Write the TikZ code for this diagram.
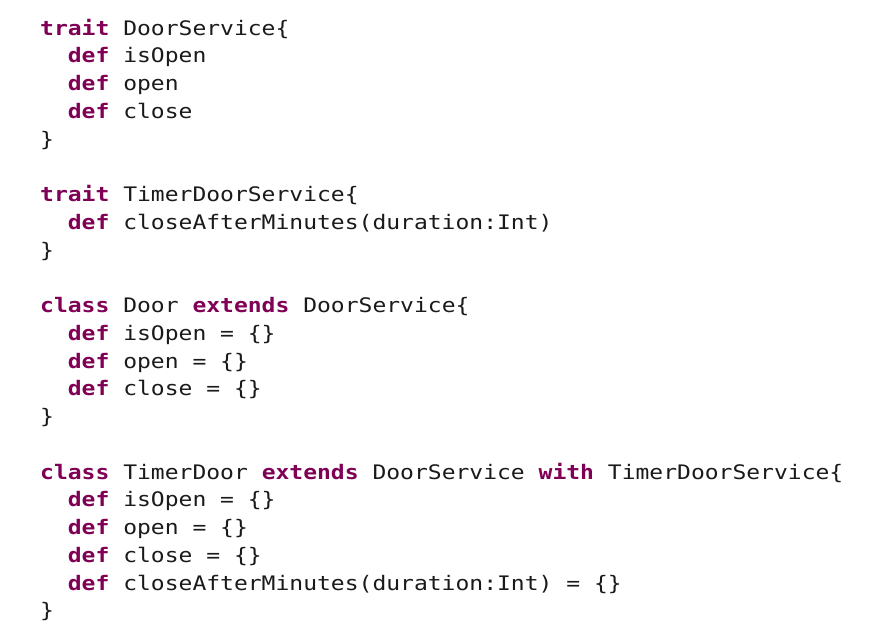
\documentclass[tikz,border=0pt]{standalone}
\usepackage{fontspec}
\setmonofont[FakeStretch=1.15]{DejaVu Sans Mono}
\definecolor{kw}{HTML}{7F0055}
\definecolor{txt}{HTML}{1A1A1A}
\newcommand{\kw}[1]{\textbf{\color{kw}#1}}
\tikzset{codeline/.style={anchor=base west,inner sep=0pt,font=\ttfamily\fontsize{20}{20}\selectfont,text=txt}}
\begin{document}
\begin{tikzpicture}[x=1pt,y=-1pt]
\useasboundingbox[fill=white] (0,0) rectangle (869,621);
\def\lh{27.75}
\node[codeline] (l1) at (40,35) {\kw{trait} DoorService\{};
\node[codeline] (l2) at (67.7,35+1*\lh) {\kw{def} isOpen};
\node[codeline] (l3) at (67.7,35+2*\lh) {\kw{def} open};
\node[codeline] (l4) at (67.7,35+3*\lh) {\kw{def} close};
\node[codeline] (l5) at (40,35+4*\lh) {\}};
\node[codeline] (l7) at (40,35+6*\lh) {\kw{trait} TimerDoorService\{};
\node[codeline] (l8) at (67.7,35+7*\lh) {\kw{def} closeAfterMinutes(duration:Int)};
\node[codeline] (l9) at (40,35+8*\lh) {\}};
\node[codeline] (l11) at (40,35+10*\lh) {\kw{class} Door \kw{extends} DoorService\{};
\node[codeline] (l12) at (67.7,35+11*\lh) {\kw{def} isOpen = \{\}};
\node[codeline] (l13) at (67.7,35+12*\lh) {\kw{def} open = \{\}};
\node[codeline] (l14) at (67.7,35+13*\lh) {\kw{def} close = \{\}};
\node[codeline] (l15) at (40,35+14*\lh) {\}};
\node[codeline] (l17) at (40,35+16*\lh) {\kw{class} TimerDoor \kw{extends} DoorService \kw{with} TimerDoorService\{};
\node[codeline] (l18) at (67.7,35+17*\lh) {\kw{def} isOpen = \{\}};
\node[codeline] (l19) at (67.7,35+18*\lh) {\kw{def} open = \{\}};
\node[codeline] (l20) at (67.7,35+19*\lh) {\kw{def} close = \{\}};
\node[codeline] (l21) at (67.7,35+20*\lh) {\kw{def} closeAfterMinutes(duration:Int) = \{\}};
\node[codeline] (l22) at (40,35+21*\lh) {\}};
\end{tikzpicture}
\end{document}
